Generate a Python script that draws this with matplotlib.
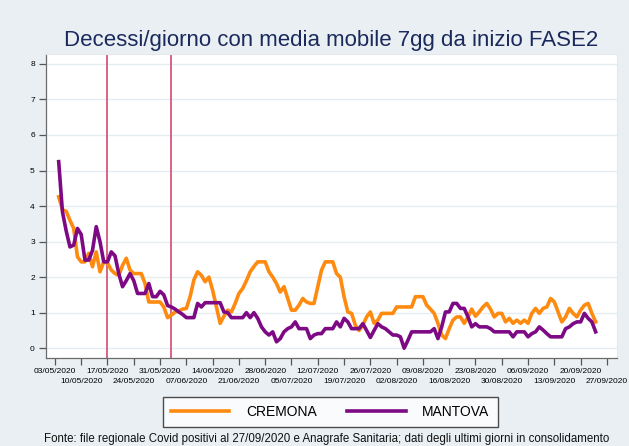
import matplotlib
matplotlib.use("Agg")
import matplotlib.pyplot as plt
import pandas as pd

# media mobile 7gg dei decessi giornalieri, dal 04/05/2020 al 24/09/2020
inizio = "2020-05-04"

cremona = [4.26, 3.9, 3.85, 3.6, 3.37, 2.57, 2.43, 2.43, 2.67, 2.29,
           2.71, 2.15, 2.43, 2.4, 2.2, 2.1, 2.05, 2.33, 2.53, 2.2,
           2.1, 2.1, 2.1, 1.82, 1.3, 1.3, 1.3, 1.3, 1.16, 0.86,
           0.93, 1.02, 1.05, 1.1, 1.12, 1.45, 1.92, 2.15, 2.05, 1.87,
           2.0, 1.63, 1.16, 0.7, 0.9, 1.07, 1.02, 1.26, 1.54, 1.68,
           1.9, 2.15, 2.3, 2.43, 2.43, 2.43, 2.15, 2.0, 1.82, 1.58,
           1.73, 1.4, 1.07, 1.07, 1.21, 1.4, 1.3, 1.26, 1.26, 1.73,
           2.2, 2.43, 2.43, 2.43, 2.1, 2.0, 1.45, 1.02, 0.98, 0.65,
           0.5, 0.65, 0.88, 1.02, 0.7, 0.79, 0.98, 0.98, 0.98, 0.98,
           1.16, 1.16, 1.16, 1.16, 1.16, 1.45, 1.45, 1.45, 1.21, 1.1,
           0.98, 0.7, 0.37, 0.27, 0.55, 0.79, 0.88, 0.88, 0.7, 0.88,
           1.1, 0.9, 1.02, 1.16, 1.26, 1.1, 0.88, 0.98, 0.98, 0.74,
           0.84, 0.7, 0.79, 0.7, 0.79, 0.7, 0.98, 1.12, 0.98, 1.12,
           1.16, 1.4, 1.3, 1.02, 0.74, 0.88, 1.12, 0.98, 0.88, 1.07,
           1.21, 1.26, 0.98, 0.74]

mantova = [5.25, 3.84, 3.3, 2.85, 2.9, 3.37, 3.2, 2.48, 2.48, 2.75,
           3.42, 3.0, 2.43, 2.43, 2.71, 2.6, 2.1, 1.73, 1.9, 2.1,
           1.9, 1.54, 1.54, 1.54, 1.82, 1.45, 1.45, 1.6, 1.5, 1.2,
           1.16, 1.1, 1.02, 0.95, 0.86, 0.86, 0.86, 1.26, 1.16, 1.28,
           1.28, 1.28, 1.28, 1.28, 1.02, 1.0, 0.86, 0.86, 0.86, 0.86,
           1.0, 0.86, 1.0, 0.84, 0.6, 0.46, 0.37, 0.46, 0.18, 0.27,
           0.46, 0.55, 0.6, 0.74, 0.55, 0.55, 0.55, 0.27, 0.37, 0.41,
           0.41, 0.55, 0.55, 0.55, 0.74, 0.6, 0.84, 0.74, 0.55, 0.55,
           0.55, 0.69, 0.5, 0.3, 0.5, 0.69, 0.6, 0.55, 0.46, 0.37,
           0.37, 0.32, 0.0, 0.22, 0.46, 0.46, 0.46, 0.46, 0.46, 0.46,
           0.55, 0.27, 0.6, 1.02, 1.02, 1.26, 1.26, 1.12, 1.12, 0.88,
           0.6, 0.69, 0.6, 0.6, 0.6, 0.55, 0.46, 0.46, 0.46, 0.46,
           0.46, 0.32, 0.46, 0.46, 0.46, 0.32, 0.41, 0.46, 0.6, 0.51,
           0.41, 0.32, 0.32, 0.32, 0.32, 0.55, 0.6, 0.69, 0.74, 0.74,
           0.98, 0.84, 0.74, 0.46]

# date delle due linee verticali (riaperture)
linee_vert = ["2020-05-17", "2020-06-03"]

giorni = pd.date_range(inizio, periods=len(cremona), freq="D")
# etichette alternate su due righe
tick_alti = pd.date_range("2020-05-03", "2020-09-27", freq="14D")
tick_bassi = pd.date_range("2020-05-10", "2020-09-27", freq="14D")

sfondo = "#e9eff3"
plt.rcParams["font.family"] = ["Liberation Sans", "DejaVu Sans"]

fig = plt.figure(figsize=(6.29, 4.46), dpi=100, facecolor=sfondo)
ax = fig.add_axes([0.073, 0.197, 0.908, 0.682])
ax.set_facecolor("white")

ax.grid(axis="y", color="#e6edf1", linewidth=1.0)
ax.set_axisbelow(True)

for d in linee_vert:
    ax.axvline(pd.Timestamp(d), color="#d5587a", linewidth=1.3, zorder=2)

ax.plot(giorni, cremona, color="#ff8a10", linewidth=2.6, label="CREMONA", zorder=3)
ax.plot(giorni, mantova, color="#7d0a84", linewidth=2.6, label="MANTOVA", zorder=4)

x0 = pd.Timestamp("2020-05-03")
ax.set_xlim(x0 - pd.Timedelta(days=2.4), x0 + pd.Timedelta(days=149.7))
ax.set_ylim(-0.28, 8.28)
ax.set_yticks(range(0, 9))

ax.set_xticks(tick_alti)
ax.set_xticklabels([t.strftime("%d/%m/%Y") for t in tick_alti], fontsize=6)
ax.set_xticks(tick_bassi, minor=True)
ax.set_xticklabels([t.strftime("%d/%m/%Y") for t in tick_bassi], minor=True, fontsize=6)
ax.tick_params(axis="x", which="major", length=5, width=0.9, color="#555555", pad=2)
ax.tick_params(axis="x", which="minor", length=5, width=0.9, color="#555555", pad=9.5)
ax.tick_params(axis="y", length=5, width=0.9, color="#555555", labelsize=6, pad=3)

for s in ["left", "bottom"]:
    ax.spines[s].set_color("#6a6a6a")
    ax.spines[s].set_linewidth(0.9)
for s in ["top", "right"]:
    ax.spines[s].set_color("#e3e9ed")
    ax.spines[s].set_linewidth(0.8)

fig.text(0.526, 0.91, "Decessi/giorno con media mobile 7gg da inizio FASE2",
         ha="center", va="center", fontsize=16, color="#1b2a5c")

leg = fig.legend(loc="center", bbox_to_anchor=(0.525, 0.076), ncol=2,
                 fontsize=10, handlelength=4.2, columnspacing=2.2,
                 frameon=True, fancybox=False, edgecolor="#222222",
                 borderpad=0.6, handletextpad=1.2)
leg.get_frame().set_linewidth(1.0)

fig.text(0.52, 0.015,
         "Fonte: file regionale Covid positivi al 27/09/2020 e Anagrafe Sanitaria; dati degli ultimi giorni in consolidamento",
         ha="center", va="center", fontsize=8.3, color="#111111")

fig.savefig("out.png", dpi=100, facecolor=sfondo)
